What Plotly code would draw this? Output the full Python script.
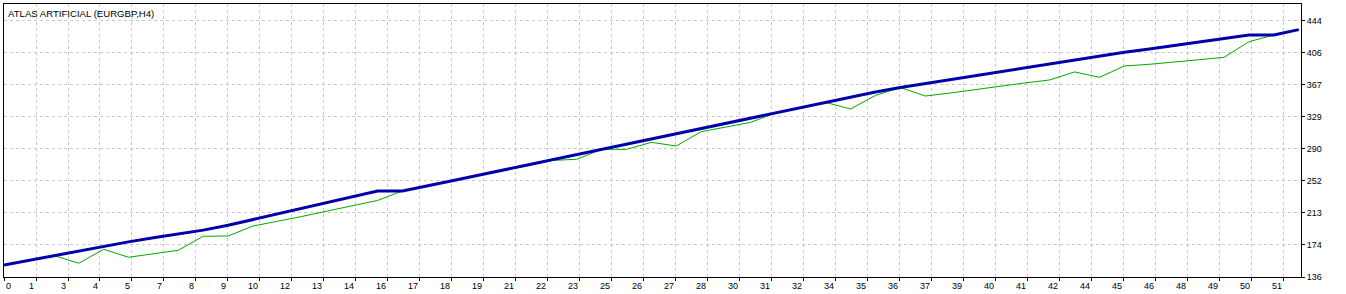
import plotly.graph_objects as go

# ---- data ----
balance = [150.4, 156.1, 161.8, 167.6, 173.3, 178.2, 183.1, 187.6, 192.3, 198.1,
           205.1, 212.1, 219.0, 226.0, 233.0, 239.3, 239.3, 245.1, 251.5, 257.8,
           264.1, 270.4, 276.7, 283.0, 289.3, 295.6, 301.9, 308.1, 314.4, 320.7,
           326.9, 333.2, 339.4, 345.7, 351.9, 358.2, 363.5, 368.2, 373.0, 377.8,
           382.5, 387.3, 392.0, 396.8, 401.5, 405.8, 409.9, 414.1, 418.2, 422.3,
           426.6, 426.6, 433.0]
equity = [150.4, 156.1, 161.8, 152.5, 169.3, 159.7, 163.9, 168.1, 184.9, 185.2,
          197.2, 202.6, 208.9, 215.3, 221.6, 227.9, 239.3, 245.1, 251.5, 257.8,
          264.1, 269.0, 276.0, 277.3, 289.3, 289.3, 297.7, 293.3, 310.5, 316.1,
          321.8, 333.2, 339.4, 345.7, 337.7, 354.1, 363.5, 353.3, 356.9, 361.1,
          365.0, 369.0, 372.6, 382.2, 375.8, 389.4, 391.4, 394.5, 396.9, 399.8,
          418.5, 426.6, 433.0]
x_tick_labels = ["0", "1", "3", "4", "5", "7", "8", "9", "10", "12", "13", "14",
                 "16", "17", "18", "19", "21", "22", "23", "25", "26", "27", "28",
                 "30", "31", "32", "34", "35", "36", "37", "39", "40", "41", "42",
                 "44", "45", "46", "48", "49", "50", "51"]
y_tick_labels = ["136", "174", "213", "252", "290", "329", "367", "406", "444"]
y_tick_values = [136.0, 174.5, 213.0, 251.5, 290.0, 328.5, 367.0, 405.5, 444.0]
title_text = "ATLAS ARTIFICIAL (EURGBP,H4)"

trades = list(range(len(balance)))

# ---- layout constants ----
GRID_STEP = 1.2851          # trade units between vertical grid lines
X_MAX = 52.09
Y_RANGE = [136, 463.8]
FONT = "Liberation Sans, Arial, sans-serif"
GRID = dict(showgrid=True, gridcolor="#C8C8C8", gridwidth=1, griddash="3px,3px")

x_tick_values = [i * GRID_STEP for i in range(len(x_tick_labels))]

fig = go.Figure()
fig.add_trace(go.Scatter(x=trades, y=equity, mode="lines",
                         line=dict(color="#00A800", width=1), name="Equity"))
fig.add_trace(go.Scatter(x=trades, y=balance, mode="lines",
                         line=dict(color="#0000AA", width=3), name="Balance"))

annotations = []
for i, (v, t) in enumerate(zip(x_tick_values, x_tick_labels)):
    annotations.append(dict(
        x=v, y=0, xref="x", yref="paper", text=t, showarrow=False,
        xanchor="left" if i == 0 else "right", yanchor="top", yshift=-2,
        font=dict(family=FONT, size=9, color="#000000")))
annotations.append(dict(
    x=0, y=1, xref="paper", yref="paper", text=title_text, showarrow=False,
    xanchor="left", yanchor="top", xshift=2, yshift=-2,
    font=dict(family=FONT, size=9.6, color="#000000")))

fig.update_layout(
    width=1346, height=294,
    margin=dict(l=4, r=45, t=4, b=17),
    paper_bgcolor="white", plot_bgcolor="white",
    showlegend=False,
    font=dict(family=FONT, size=9, color="#000000"),
    annotations=annotations,
    xaxis=dict(range=[0, X_MAX], tickvals=x_tick_values, showticklabels=False,
               ticks="outside", ticklen=3, tickcolor="#000000",
               showline=True, linecolor="#000000", linewidth=1, mirror=True,
               zeroline=False, **GRID),
    yaxis=dict(range=Y_RANGE, side="right", tickvals=y_tick_values,
               ticktext=y_tick_labels, ticks="outside", ticklen=3,
               tickcolor="#000000", tickfont=dict(family=FONT, size=9),
               showline=True, linecolor="#000000", linewidth=1, mirror=True,
               zeroline=False, **GRID),
)

fig.write_html("out.html")
